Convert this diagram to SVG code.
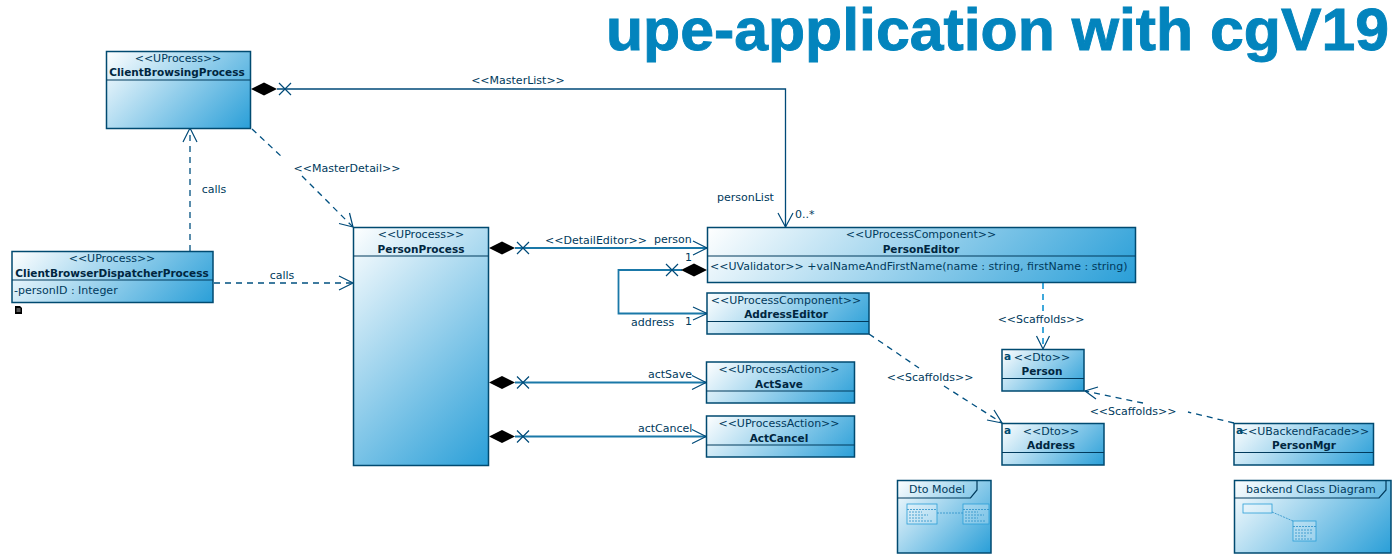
<svg xmlns="http://www.w3.org/2000/svg" xmlns:xlink="http://www.w3.org/1999/xlink" width="1400" height="560" viewBox="0 0 1400 560">
<style>
text{font-family:"DejaVu Sans","Liberation Sans",sans-serif;font-size:11px;fill:#003a5c}
.c{text-anchor:middle}
.b{font-weight:bold;font-size:10.5px;fill:#00263f}
.box{stroke:#004a70;stroke-width:1.5}
.sep{stroke:#003a5c;stroke-width:1.2}
.t{fill:#0384bd;stroke:#0384bd;stroke-width:.9;font-family:"Liberation Sans",Arial,sans-serif;font-weight:bold;font-size:59px}
.l{fill:none;stroke:#004a78;stroke-width:1.3}
.m{fill:none;stroke:#1a78a8;stroke-width:1.8}
.d{fill:none;stroke:#005080;stroke-width:1.3;stroke-dasharray:6 5}
.a{fill:none;stroke:#004a78;stroke-width:1.2}
.dia{fill:#000}
.mini{fill:#ffffff;fill-opacity:.25;stroke:#2a9fd8;stroke-width:.8}
.mm{stroke:#2a8fc8;stroke-width:.8;fill:none}
.f{stop-color:#fff}
.e{stop-color:#2a9fd8}
</style>
<defs>
<linearGradient id="g"><stop offset="0" class="f"/><stop offset="1" class="e"/></linearGradient>
<linearGradient id="g1" href="#g" gradientUnits="userSpaceOnUse" x1="106" y1="51" x2="217" y2="162"/>
<linearGradient id="g2" href="#g" gradientUnits="userSpaceOnUse" x1="12" y1="251" x2="138" y2="377"/>
<linearGradient id="g3" href="#g" gradientUnits="userSpaceOnUse" x1="353" y1="227" x2="540" y2="414"/>
<linearGradient id="g4" href="#g" gradientUnits="userSpaceOnUse" x1="707" y1="227" x2="948" y2="468"/>
<linearGradient id="g5" href="#g" gradientUnits="userSpaceOnUse" x1="707" y1="293" x2="808" y2="394"/>
<linearGradient id="g6" href="#g" gradientUnits="userSpaceOnUse" x1="706" y1="362" x2="801" y2="457"/>
<linearGradient id="g7" href="#g" gradientUnits="userSpaceOnUse" x1="706" y1="416" x2="801" y2="511"/>
<linearGradient id="g8" href="#g" gradientUnits="userSpaceOnUse" x1="1002" y1="349" x2="1064" y2="411"/>
<linearGradient id="g9" href="#g" gradientUnits="userSpaceOnUse" x1="1002" y1="423" x2="1074" y2="495"/>
<linearGradient id="g10" href="#g" gradientUnits="userSpaceOnUse" x1="1234" y1="423" x2="1324" y2="513"/>
<linearGradient id="g11" href="#g" gradientUnits="userSpaceOnUse" x1="897" y1="480" x2="980" y2="563"/>
<linearGradient id="g12" href="#g" gradientUnits="userSpaceOnUse" x1="1234" y1="480" x2="1349" y2="595"/>
</defs>
<text class="t" x="606" y="50" textLength="783" lengthAdjust="spacingAndGlyphs">upe-application with cgV19</text>
<g id="connectors">
<path class="l" d="M277 89H785.500V227"/>
<path class="a" d="M279 83l12 12M291 83l-12 12M778 213l7.500 14 7.500-14"/>
<path class="dia" d="M251 89l13-6.500 13 6.500-13 6.500z"/>
<path class="d" d="M252 129L283 158M302 176L353 227"/>
<path class="a" d="M339 223.500l14 3.500-3.500-14"/>
<path class="d" d="M190 251V128"/>
<path class="a" d="M183 142l7-14 7 14"/>
<path class="d" d="M214 283H353"/>
<path class="a" d="M339 276l14 7-14 7"/>
<path class="m" d="M515 248H707"/>
<path class="a" d="M517 242l12 12M529 242l-12 12M693 241l14 7-14 7"/>
<path class="dia" d="M489 248l13-6.500 13 6.500-13 6.500z"/>
<path class="m" d="M682 270H618.500V313.500H707"/>
<path class="a" d="M666 264l12 12M678 264l-12 12M693 307l14 6.500-14 6.500"/>
<path class="dia" d="M707 270l-13-6.500-13 6.500 13 6.500z"/>
<path class="m" d="M515 382.500H706"/>
<path class="a" d="M517 376.500l12 12M529 376.500l-12 12M692 375.500l14 7-14 7"/>
<path class="dia" d="M489 382.500l13-6.500 13 6.500-13 6.500z"/>
<path class="m" d="M515 436.500H706"/>
<path class="a" d="M517 430.500l12 12M529 430.500l-12 12M692 429.500l14 7-14 7"/>
<path class="dia" d="M489 436.500l13-6.500 13 6.500-13 6.500z"/>
<path d="M1043 283V313M1043 327V349" fill="none" stroke="#2a9fd8" stroke-width="1.8" stroke-dasharray="6 5"/>
<path class="a" d="M1036.500 336l6.500 13 6.500-13"/>
<path class="d" d="M869 334L919 368M944 386L1002 423"/>
<path class="a" d="M987 420l15 3-8-13"/>
<path class="d" d="M1234 423L1188 412M1143 403L1085 391"/>
<path class="a" d="M1098 387l-13 4 11 8"/>
</g>
<g id="ClientBrowsingProcess"><rect class="box" fill="url(#g1)" x="106.500" y="51.500" width="144" height="77"/><path class="sep" d="M106.500 80H250.500"/><text class="c" x="178" y="62">&lt;&lt;UProcess&gt;&gt;</text><text class="c b" x="177" y="76">ClientBrowsingProcess</text></g>
<g id="ClientBrowserDispatcherProcess"><rect class="box" fill="url(#g2)" x="12" y="251.500" width="201" height="51"/><path class="sep" d="M12 280H213"/><text class="c" x="112" y="262">&lt;&lt;UProcess&gt;&gt;</text><text class="c b" x="112" y="276.500">ClientBrowserDispatcherProcess</text><text x="14" y="293.500">-personID : Integer</text><path d="M15 306h5l2 2v6h-7z" fill="#000"/><path d="M16.500 309h4M16.500 311h4" stroke="#fff" stroke-width=".7"/></g>
<g id="PersonProcess"><rect class="box" fill="url(#g3)" x="353.500" y="227.500" width="135" height="238"/><path class="sep" d="M353.500 256H488.500"/><text class="c" x="421" y="238">&lt;&lt;UProcess&gt;&gt;</text><text class="c b" x="421" y="252.500">PersonProcess</text></g>
<g id="PersonEditor"><rect class="box" fill="url(#g4)" x="707.500" y="227.500" width="428" height="55"/><path class="sep" d="M707.500 256H1135.500"/><text class="c" x="921" y="238">&lt;&lt;UProcessComponent&gt;&gt;</text><text class="c b" x="921" y="252.500">PersonEditor</text><text x="710" y="269.500">&lt;&lt;UValidator&gt;&gt; +valNameAndFirstName(name : string, firstName : string)</text></g>
<g id="AddressEditor"><rect class="box" fill="url(#g5)" x="707" y="293" width="162" height="41"/><path class="sep" d="M707 321.500H869"/><text class="c" x="786" y="304">&lt;&lt;UProcessComponent&gt;&gt;</text><text class="c b" x="786" y="318">AddressEditor</text></g>
<g id="ActSave"><rect class="box" fill="url(#g6)" x="706.500" y="362" width="148" height="41"/><path class="sep" d="M706.500 391H854.500"/><text class="c" x="779" y="373">&lt;&lt;UProcessAction&gt;&gt;</text><text class="c b" x="779" y="387.500">ActSave</text></g>
<g id="ActCancel"><rect class="box" fill="url(#g7)" x="706.500" y="416" width="148" height="41"/><path class="sep" d="M706.500 445H854.500"/><text class="c" x="779" y="427">&lt;&lt;UProcessAction&gt;&gt;</text><text class="c b" x="779" y="441.500">ActCancel</text></g>
<g id="Person"><rect class="box" fill="url(#g8)" x="1002" y="349.500" width="82" height="41.500"/><path class="sep" d="M1002 378.500H1084"/><text class="c" x="1042" y="361">&lt;&lt;Dto&gt;&gt;</text><text class="c b" x="1042" y="375">Person</text><text class="b" x="1004" y="360" style="fill:#004a70">a</text></g>
<g id="Address"><rect class="box" fill="url(#g9)" x="1002" y="423.500" width="102" height="41.500"/><path class="sep" d="M1002 452.500H1104"/><text class="c" x="1051" y="435">&lt;&lt;Dto&gt;&gt;</text><text class="c b" x="1051" y="449">Address</text><text class="b" x="1004" y="434" style="fill:#004a70">a</text></g>
<g id="PersonMgr"><rect class="box" fill="url(#g10)" x="1234" y="423.500" width="139.500" height="41.500"/><path class="sep" d="M1234 452.500H1373.500"/><text class="c" x="1304" y="435">&lt;&lt;UBackendFacade&gt;&gt;</text><text class="c b" x="1304" y="449">PersonMgr</text><text class="b" x="1236" y="434" style="fill:#004a70">a</text></g>
<g id="DtoModel"><rect class="box" fill="url(#g11)" x="897.500" y="480.500" width="93.500" height="72.500"/><path class="sep" fill="none" d="M897.500 498H970.500L977 490V480.500"/><text x="909" y="493">Dto Model</text><rect class="mini" x="907" y="504" width="30" height="20"/><rect class="mini" x="963" y="504" width="26" height="20"/><path class="mm" d="M907 509.500H937M963 509.500H989M937 513H963M909 512H922M909 515H928M909 518H924M909 521H932M965 512H978M965 515H984M965 518H978M965 521H985" stroke-dasharray="2 1"/></g>
<g id="backendClassDiagram"><rect class="box" fill="url(#g12)" x="1234.500" y="480.500" width="156.500" height="72.500"/><path class="sep" fill="none" d="M1234.500 498H1379L1386 490V480.500"/><text x="1246" y="493">backend Class Diagram</text><rect class="mini" x="1243" y="504" width="29" height="9"/><rect class="mini" x="1293" y="521" width="23" height="20"/><path class="mm" d="M1272 512L1293 521M1293 526.500H1316M1295 530H1312M1295 533H1313M1295 536H1307M1295 539H1312" stroke-dasharray="2 1"/></g>
<g id="labels">
<text class="c" x="518" y="84">&lt;&lt;MasterList&gt;&gt;</text>
<text class="c" x="347" y="172">&lt;&lt;MasterDetail&gt;&gt;</text>
<text class="c" x="214" y="193">calls</text>
<text class="c" x="282" y="279">calls</text>
<text x="717" y="201">personList</text>
<text x="795" y="218">0..*</text>
<text class="c" x="596" y="244">&lt;&lt;DetailEditor&gt;&gt;</text>
<text x="654" y="243">person</text>
<text x="685" y="261">1</text>
<text x="631" y="326">address</text>
<text x="685" y="325">1</text>
<text x="648" y="378">actSave</text>
<text x="638" y="432">actCancel</text>
<text class="c" x="1041" y="323">&lt;&lt;Scaffolds&gt;&gt;</text>
<text class="c" x="930" y="381">&lt;&lt;Scaffolds&gt;&gt;</text>
<text class="c" x="1133" y="415">&lt;&lt;Scaffolds&gt;&gt;</text>
</g>
</svg>
